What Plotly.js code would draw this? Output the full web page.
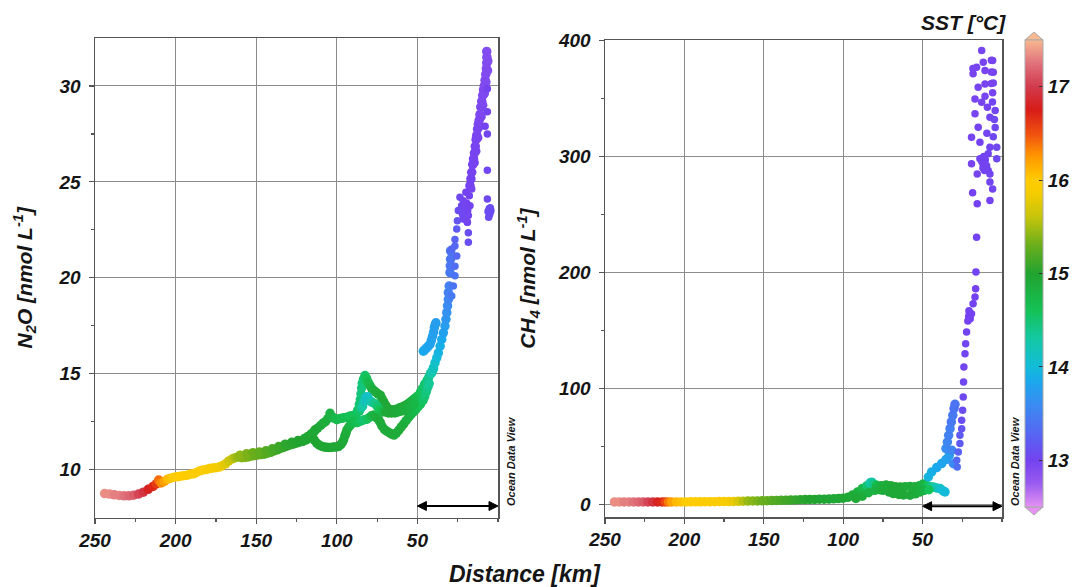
<!DOCTYPE html>
<html>
<head>
<meta charset="utf-8">
<script src="https://cdn.plot.ly/plotly-3.0.1.min.js"></script>
<style>html,body{margin:0;padding:0;background:#fff;}#chart{width:1088px;height:587px;}</style>
</head>
<body>
<div id="chart"></div>
<script>
// ---------- DATA (distance km, concentration nmol/L, SST degC) ----------
// N2O panel
const n2oOffshore = [
 [244,8.75,17.35],[241,8.72,17.35],[238,8.68,17.3],[235,8.65,17.3],[232,8.63,17.25],[229,8.63,17.2],
 [226,8.66,17.15],[223,8.72,17.05],[220,8.82,16.95],[217,8.97,16.8],[214,9.12,16.7],[212,9.25,16.6],
 [210.5,9.45,16.4],[209,9.3,16.3],[207,9.38,16.2],[205,9.5,16.1],[203,9.55,16.05],[201,9.6,16.0],
 [199,9.62,16.0],[197,9.65,16.0],[195,9.68,15.98],[193,9.7,15.97],[191,9.75,15.96],[189,9.78,15.95],
 [187,9.85,15.95],[185,9.93,15.94],[183,9.98,15.93],[181,10.0,15.92],[179,10.05,15.9],[177,10.08,15.88],
 [175,10.1,15.86],[173,10.13,15.84],[171,10.2,15.8],[169,10.3,15.75],[167,10.45,15.65],[165,10.55,15.6],
 [163,10.62,15.5],[161,10.65,15.45],[159,10.62,15.4],[157,10.63,15.38],[155,10.66,15.35],[153,10.7,15.33],
 [151,10.73,15.3],[149,10.76,15.28],[147,10.78,15.25],[145,10.8,15.22],[143,10.85,15.2],[141,10.9,15.18],
 [139,10.97,15.15],[137,11.03,15.12],[135,11.1,15.1],[133,11.15,15.08],[131,11.22,15.06],[129,11.28,15.05],
 [127,11.33,15.03],[125,11.38,15.02],[123,11.43,15.0],[121,11.47,15.0],[119,11.55,14.98],[117,11.65,14.96]
];
const n2oOffshore2 = [
 [160,10.75,15.42],[156,10.82,15.36],[152,10.88,15.3],[148,10.92,15.26],[144,10.98,15.2],[140,11.08,15.15],
 [136,11.2,15.1],[132,11.32,15.05],[128,11.42,15.02],[124,11.52,15.0],[120,11.62,14.97],[118,11.72,14.96],
 [116,11.85,14.95],[114,11.98,14.95]
];
const n2oUpperBranch = [
 [115.6,11.75,14.95],[113.5,12.07,14.95],[112,12.15,14.93],[110,12.3,14.92],[108.5,12.42,14.9],[107,12.5,14.88],
 [105.5,12.65,14.85],[104.2,12.93,14.8],[103,12.75,14.8],[101.5,12.67,14.75],[100,12.6,14.7],[98.5,12.65,14.7],
 [97,12.67,14.68],[95.5,12.7,14.65],[94,12.72,14.65],[92.5,12.76,14.62],[91,12.8,14.6],[89.5,12.82,14.6],
 [88,12.9,14.58],[87,13.1,14.55],[86,13.4,14.5],[85.4,13.65,14.48],[85,13.95,14.45],[84.6,14.25,14.45],
 [84.2,14.5,14.45],[83.5,14.7,14.5],[82.5,14.9,14.55],[81.5,14.75,14.6],[80.5,14.55,14.7],[79.5,14.4,14.75],
 [78.5,14.25,14.8],[77.5,14.15,14.85],[76,14.05,14.9],[74.5,13.95,14.9],[73,13.88,14.92],[72,13.7,14.92],
 [71,13.55,14.93],[70,13.4,14.93],[69,13.25,14.95],[67.5,13.15,14.95],[66,13.1,14.95],[64.5,13.1,14.95],
 [63,13.15,14.95],[61.5,13.19,14.93],[60,13.25,14.92],[58.5,13.3,14.9],[57,13.36,14.9],[55.5,13.45,14.88],
 [54,13.55,14.85],[52.5,13.65,14.8],[51,13.75,14.75],[49.5,13.85,14.7],[48,14.05,14.6],[46.9,14.22,14.55],
 [45.5,14.45,14.5],[44,14.65,14.45],[43,14.8,14.4],[42,15.0,14.35],[41,15.1,14.3],[40,15.25,14.25]
];
const n2oLowerLoop100 = [
 [114,11.55,14.98],[112.5,11.38,14.98],[111,11.28,14.98],[109.5,11.22,14.97],[108,11.18,14.97],[106.5,11.16,14.97],
 [105,11.15,14.96],[103.5,11.15,14.96],[102,11.17,14.95],[100.5,11.18,14.95],[99,11.2,14.95],[97.5,11.3,14.94],
 [96.5,11.42,14.93],[95.8,11.55,14.92],[95,11.75,14.9],[94.3,11.9,14.9],[93.7,12.07,14.88],[92.5,12.22,14.85],
 [91.5,12.33,14.8],[90.5,12.42,14.75],[89.5,12.5,14.7]
];
const n2oMiddleBand = [
 [89,12.45,14.7],[87.5,12.45,14.65],[86,12.5,14.6],[84.5,12.55,14.55],[83,12.6,14.5],[81.5,12.62,14.55],
 [80,12.7,14.6],[78.5,12.8,14.7],[77,12.85,14.8]
];
const n2oCyanInterior = [
 [86,13.05,14.55],[85,13.2,14.4],[84,13.3,14.3],[83,13.55,14.2],[82,13.75,14.15],[81,13.8,14.1],[80,13.65,14.15],
 [79,13.55,14.2],[78,13.5,14.25],[76.5,13.45,14.4],[75,13.3,14.5],[73.5,13.1,14.6],[72,13.0,14.7]
];
const n2oLowerLoop65 = [
 [75.5,12.7,14.85],[74,12.59,14.87],[73,12.45,14.88],[72,12.27,14.9],[70.5,12.1,14.9],[69,12.0,14.9],
 [67.5,11.92,14.9],[66,11.85,14.9],[64.5,11.8,14.9],[63,11.9,14.9],[61.5,12.05,14.9],[60,12.22,14.9],
 [58.5,12.38,14.88],[57,12.55,14.85],[55.5,12.72,14.82],[54,12.86,14.8],[52.5,13.0,14.75],[51,13.13,14.7],
 [49.5,13.28,14.65],[48,13.42,14.6],[46.5,13.6,14.55],[45.5,13.8,14.5],[44.5,14.05,14.45],[43.5,14.3,14.4],
 [42.7,14.48,14.35]
];
const n2oDescending = [
 [70,13.0,14.9],[68,12.95,14.92],[66,12.95,14.93],[64,12.95,14.93],[62,13.0,14.92],[60,13.05,14.9],
 [58,13.1,14.88],[56,13.2,14.85],[54,13.3,14.8],[52,13.4,14.75]
];
const n2oNearshoreRise = [
 [41.1,15.04,14.25],[40.1,15.3,14.15],[39.1,15.56,14.1],[38,15.82,14.0],[37,16.08,13.95],[35.9,16.43,13.9],
 [34.9,16.78,13.85],[33.9,17.13,13.8],[32.9,17.48,13.75],[32.3,17.83,13.7],[31.8,18.18,13.65],[31.3,18.53,13.6],
 [30.8,18.87,13.55],[30.8,19.22,13.5],[30.3,19.57,13.5],[29.8,20.27,13.45],[29.6,20.62,13.42],[29.4,20.97,13.4],
 [29.4,21.4,13.38]
];
const n2oLightBlueBranch = [
 [46.3,16.17,13.85],[45.3,16.25,13.85],[44.3,16.34,13.82],[43.2,16.43,13.82],[42.2,16.52,13.8],[41.4,16.72,13.8],
 [40.6,16.95,13.78],[40,17.15,13.78],[39.5,17.39,13.75],[39,17.55,13.75],[38.5,17.65,13.75]
];
const n2oBlueDots = [
 [28.7,19.05,13.45],[27.7,19.57,13.4],[26.7,20.1,13.4],[26.7,20.6,13.35],[25.6,21.14,13.3],[26.7,21.66,13.3],
 [28.7,21.5,13.3],[26.7,22.0,13.25],[25.6,22.54,13.2],[25.2,22.97,13.15],[24.6,23.5,13.1],
 [18.4,22.35,13.1],[18.4,21.85,13.1],[19.0,22.9,13.05]
];
const n2oPurpleCluster = [
 [23.6,24.2,13.05],[22.6,23.76,13.05],[21.6,24.02,13.02],[20.5,23.4,13.02],[19.5,23.9,13.0],[18.4,23.24,13.02],
 [17.4,23.76,13.0],[17.8,24.28,13.0],[21.6,23.06,13.04],[19.9,24.46,13.0],[16.3,24.63,12.98],[19.0,22.9,13.02],
 [24.2,23.5,13.08],[22.0,23.3,13.04],[20.8,23.7,13.02],[18.8,23.5,13.02]
];
const n2oTopColumn = [
 [17.4,24.8,13.0],[16.8,25.15,13.0],[16.3,25.5,12.99],[15.7,25.9,12.99],[15.2,26.2,12.98],[14.6,26.5,12.98],
 [14.1,26.85,12.97],[13.6,27.2,12.97],[13.2,27.42,12.96],[12.7,27.75,12.96],[12.2,28.0,12.95],[11.7,28.2,12.95],
 [11.2,28.5,12.95],[10.7,28.9,12.94],[10.1,29.2,12.94],[9.5,29.5,12.93],[9.0,29.8,12.93],[8.5,30.0,12.92],
 [8.0,30.3,12.92],[7.6,30.6,12.91],[7.2,30.9,12.91],[7.0,31.2,12.9],[6.9,31.5,12.9],[7.0,31.8,12.9],
 [14.8,26.0,12.99],[13.8,26.6,12.98],[12.6,27.3,12.97],[11.5,27.9,12.96],[10.5,28.4,12.95],[9.5,29.0,12.94],
 [8.5,29.6,12.93],[7.5,30.2,12.92],[6.5,30.8,12.91],[6.3,31.3,12.9]
];
const n2oOuterDots = [
 [6.6,29.85,13.0],[6.6,28.65,13.0],[8.0,27.9,13.0],[6.6,27.5,13.02],[6.6,25.6,13.04],[6.6,24.1,13.05],
 [4.9,23.4,13.08],[5.5,23.6,13.08],[4.4,23.5,13.08],[5.8,23.15,13.08],[5.2,23.3,13.08],[6.2,23.45,13.08],[4.8,23.65,13.08]
];

// CH4 panel
const ch4Offshore = [
 [244,2.0,17.35],[241,2.0,17.35],[238,2.0,17.3],[235,2.0,17.3],[232,2.0,17.25],[229,2.0,17.2],[226,2.0,17.15],
 [223,2.0,17.05],[220,2.0,16.95],[217,2.0,16.8],[214,2.0,16.7],[212,2.0,16.55],[210,2.0,16.35],[208,2.0,16.2],
 [205,2.0,16.1],[202,2.0,16.05],[199,2.0,16.0],[196,2.1,16.0],[193,2.1,16.0],[190,2.1,15.98],[187,2.2,15.97],
 [184,2.2,15.95],[181,2.2,15.95],[178,2.3,15.93],[175,2.3,15.9],[172,2.3,15.87],[169,2.4,15.8],[166,2.5,15.7],
 [163,2.6,15.55],[160,2.7,15.45],[157,2.8,15.4],[154,2.9,15.35],[151,3.0,15.3],[148,3.1,15.27],[145,3.2,15.23],
 [142,3.3,15.2],[139,3.4,15.17],[136,3.5,15.13],[133,3.6,15.1],[130,3.7,15.08],[127,3.9,15.05],[124,4.0,15.03],
 [121,4.1,15.0],[118,4.2,15.0],[115,4.3,14.98],[112,4.4,14.97],[109,4.5,14.96],[106,4.7,14.95],[103,4.9,14.95],[100,5.2,14.95]
];
const ch4Shelf = [
 [97,6.0,14.93],[94,8.0,14.9],[91,10.5,14.85],[88,13.5,14.75],[85,16.0,14.5],[83,18.5,14.3],[82,19.0,14.25],
 [81,17.5,14.4],[79,16.4,14.7],[76,16.0,14.85],[73,16.5,14.9],[70,16.0,14.92],[67,15.0,14.93],[64,14.9,14.93],
 [61,15.2,14.92],[58,15.3,14.9],[55,15.0,14.88],[52,16.0,14.85],[49.6,17.5,14.8],[47,16.0,14.6],[45,15.0,14.45],
 [43.3,14.9,14.3],[41,14.0,14.2],[38.9,13.5,14.1],[37,11.5,14.05],[35.9,10.6,14.0]
];
const ch4ShelfLower = [
 [92,5.0,14.95],[88,7.0,14.9],[84,10.0,14.8],[80,12.0,14.8],[77,12.5,14.85],[75,12.0,14.9],[71,10.5,14.92],
 [68.4,9.2,14.93],[65,8.5,14.93],[62,8.0,14.93],[57.9,7.8,14.92],[54.5,9.0,14.9],[51.6,10.6,14.85],[49,12.0,14.8],[46,12.5,14.6]
];
const ch4CyanStroke = [
 [46.4,23.5,13.95],[44.3,27.9,13.9],[41.1,31.6,13.85],[38.0,35.1,13.82],[35.3,38.5,13.8],[33.2,42.2,13.75]
];
const ch4BlueStrand = [
 [35.3,48,13.6],[34.4,53.7,13.55],[33.6,59.5,13.5],[32.7,65.2,13.5],[31.9,71,13.45],[31.0,76.7,13.45],
 [30.2,82.5,13.4],[29.6,86.2,13.4],[30.6,35,13.6],[31.7,46.6,13.55]
];
const ch4RisingDots = [
 [28.2,32.2,13.35],[28.5,37.9,13.3],[27.5,45.1,13.25],[26.5,52.3,13.2],[26.5,59.5,13.2],[25.4,65.2,13.15],
 [25.4,72.4,13.1],[24.8,81,13.08],[24.4,92.5,13.05],[24.2,105.4,13.04],[24.0,118.4,13.03],[23.3,129.9,13.02],
 [22.9,138.5,13.02],[22.3,148.5,13.01],[21.5,158,13.0],[21.0,162,13.0],[20.5,165,13.0],[20.0,160,13.0],
 [20.8,167,13.0],[19.2,164.4,13.0],[18.2,173,13.0],[17.0,178.7,13.0],[16.6,186,13.0],[16.4,200.3,13.0],
 [16.0,230.4,13.0],[15.6,259.2,13.0],[18.5,268.7,13.0],[7.6,262,13.0]
];
const ch4CoastalScatter = [
 [12.8,391.4,12.98],[11.8,381.3,12.98],[16,377,12.98],[18.2,371.3,12.98],[10.7,374.1,12.98],[5.9,382.8,12.98],
 [5.5,372.7,12.98],[5.5,363.5,12.98],[10.7,362.6,12.98],[15,359.7,12.98],[17,349.7,12.98],[12.8,346.8,12.98],
 [10.7,352,12.98],[9.2,342.5,13.0],[5.9,355,12.98],[4.3,339.7,13.02],[7.6,333.9,13.02],[17,336.8,12.98],
 [15,325.3,13.0],[13.9,312.3,13.0],[19.2,316.6,12.98],[4.3,325,13.05],[5.5,317,13.05],[3.3,308,13.05],
 [7.6,308,13.02],[8.7,302.3,13.02],[12.8,296.6,13.0],[10.7,290.8,13.0],[8.7,288,13.02],[19.2,293.7,12.98],
 [11.8,293.7,13.0],[15.6,285,12.98],[7.6,285,13.02],[7.6,278,13.02],[5.9,272,13.02],[3.3,298,13.05],
 [13.9,298,13.0],[12.5,295,13.0],[11.5,300,13.0],[10.5,297,13.01],[12,290,13.0],[11,288,13.01],
 [9.7,292,13.01],[6.7,383,12.98],[6.7,373,12.98],[6.7,363,12.98],[18.3,376,12.98],[6.0,347,13.02],
 [9.5,320,13.02],[4.8,332,13.05]
];

// SST colour scale stops [degC, colour]
const sstStops = [
 [12.5,'#e592f2'],[12.75,'#9a5cf0'],[13.0,'#7442f0'],[13.3,'#5468f2'],[13.6,'#3a8cf2'],[13.85,'#1aa8ec'],
 [14.0,'#12bcd8'],[14.3,'#14c8a4'],[14.6,'#14c256'],[15.0,'#22a330'],[15.3,'#6aae1c'],[15.6,'#c4c40c'],
 [15.85,'#f4cc02'],[16.0,'#ffcc00'],[16.25,'#ff9800'],[16.5,'#f05010'],[16.75,'#d81c18'],[17.0,'#d23a4c'],
 [17.25,'#e0727c'],[17.5,'#f8b890']
];
const sstTicks = [13,14,15,16,17];
const sstMin = 12.5, sstMax = 17.5;

// ---------- BUILD ----------
const n2oTrackSegs = [n2oOffshore,n2oOffshore2,n2oUpperBranch,n2oLowerLoop100,n2oMiddleBand,n2oCyanInterior,
  n2oLowerLoop65,n2oDescending,n2oNearshoreRise,n2oLightBlueBranch,n2oTopColumn];
const n2oDotSegs = [n2oBlueDots,n2oPurpleCluster,n2oOuterDots];
const ch4TrackSegs = [ch4Offshore,ch4Shelf,ch4ShelfLower,ch4CyanStroke,ch4BlueStrand];
const ch4DotSegs = [ch4RisingDots,ch4CoastalScatter];
function flat(segs){
  const x=[],y=[],c=[];
  segs.forEach(s=>s.forEach(p=>{x.push(p[0]);y.push(p[1]);c.push(p[2]);}));
  return {x,y,c};
}
const colorscale = sstStops.map(s=>[(s[0]-sstMin)/(sstMax-sstMin), s[1]]);

const W=1088,H=587;
const fx = p=>p/W, fy = p=>1-p/H;
const bi = (size)=>({family:'"Liberation Sans", Arial, sans-serif', size:size, weight:'bold', style:'italic', color:'#151515'});

function tr(segs, xa, ya, size){
  const d = flat(segs);
  return {type:'scatter', mode:'markers', x:d.x, y:d.y, xaxis:xa, yaxis:ya,
    marker:{size:size, color:d.c, coloraxis:'coloraxis'}, hoverinfo:'x+y'};
}
const traces = [
  tr(n2oTrackSegs,'x','y',9.5), tr(n2oDotSegs,'x','y',7.5),
  tr(ch4TrackSegs,'x2','y2',9.5), tr(ch4DotSegs,'x2','y2',7.5)
];

const axCommon = {showline:true, linecolor:'#555', linewidth:1.5, mirror:true, showgrid:true, gridcolor:'#8c8c8c',
  gridwidth:1, zeroline:false, ticks:'outside', ticklen:5, tickwidth:1.2, tickcolor:'#555', tickfont:bi(19), fixedrange:true};
const xTicks = [250,200,150,100,50];
const xMinor = {tickvals:[225,175,125,75,25,0], ticks:'outside', ticklen:3, tickcolor:'#555', showgrid:false};

// plot frames (px) used for arrows
const L = {x0:95, x1:498, y0:38, y1:517.5, r:[250,0], yr:[7.5,32.5]};
const R = {x0:605, x1:1002, y0:40, y1:517, r:[250,0], yr:[-11,400.5]};

const barTop=40, barBot=507, barL=1025, barR=1043;
const shapes = [
 {type:'path', xref:'paper', yref:'paper', layer:'above',
  path:`M ${fx(barL)},${fy(barTop)} L ${fx((barL+barR)/2)},${fy(barTop-8)} L ${fx(barR)},${fy(barTop)} Z`,
  fillcolor:sstStops[sstStops.length-1][1], line:{color:'#aaa', width:1}},
 {type:'path', xref:'paper', yref:'paper', layer:'above',
  path:`M ${fx(barL)},${fy(barBot)} L ${fx((barL+barR)/2)},${fy(barBot+8)} L ${fx(barR)},${fy(barBot)} Z`,
  fillcolor:sstStops[0][1], line:{color:'#aaa', width:1}}
];
sstTicks.forEach(t=>{
  const yp = barTop + (sstMax-t)/(sstMax-sstMin)*(barBot-barTop);
  shapes.push({type:'line', xref:'paper', yref:'paper', layer:'above', x0:fx(barL), x1:fx(barL+4), y0:fy(yp), y1:fy(yp),
    line:{color:'#333', width:1.2}});
});
// double-headed arrows marking the nearshore 50 km, drawn in each panel's data coordinates
function arrow(P, xref, yref, yVal){
  const kx = (P.r[0]-P.r[1])/(P.x1-P.x0), ky = (P.yr[1]-P.yr[0])/(P.y1-P.y0);
  const hl = 9*kx, hw = 4.5*ky;
  shapes.push({type:'line', xref:xref, yref:yref, x0:50-hl*0.5, x1:0+hl*0.5, y0:yVal, y1:yVal, line:{color:'#000', width:2}, layer:'above'});
  shapes.push({type:'path', xref:xref, yref:yref, layer:'above', fillcolor:'#000', line:{color:'#000', width:1},
    path:`M 50,${yVal} L ${50-hl},${yVal+hw} L ${50-hl},${yVal-hw} Z`});
  shapes.push({type:'path', xref:xref, yref:yref, layer:'above', fillcolor:'#000', line:{color:'#000', width:1},
    path:`M 0,${yVal} L ${hl},${yVal+hw} L ${hl},${yVal-hw} Z`});
}
arrow(L,'x','y',8.1);
arrow(R,'x2','y2',-1.7);

const layout = {
  width:W, height:H, margin:{l:0,r:0,t:0,b:0}, paper_bgcolor:'#fff', plot_bgcolor:'#fff', showlegend:false,
  font:{family:'"Liberation Sans", Arial, sans-serif', color:'#151515'},
  xaxis:Object.assign({}, axCommon, {domain:[fx(L.x0),fx(L.x1)], range:L.r, anchor:'y', tickmode:'array',
    tickvals:xTicks, minor:xMinor}),
  yaxis:Object.assign({}, axCommon, {domain:[fy(L.y1),fy(L.y0)], range:L.yr, anchor:'x', tickmode:'array',
    tickvals:[10,15,20,25,30], ticklabelstandoff:4,
    minor:{tickvals:[12.5,17.5,22.5,27.5], ticks:'outside', ticklen:3, tickcolor:'#555', showgrid:false},
    title:{text:'N<sub>2</sub>O [nmol L<sup>-1</sup>]', font:bi(21), standoff:20}}),
  xaxis2:Object.assign({}, axCommon, {domain:[fx(R.x0),fx(R.x1)], range:R.r, anchor:'y2', tickmode:'array',
    tickvals:xTicks, minor:xMinor}),
  yaxis2:Object.assign({}, axCommon, {domain:[fy(R.y1),fy(R.y0)], range:R.yr, anchor:'x2', tickmode:'array',
    tickvals:[0,100,200,300,400], ticklabelstandoff:4,
    minor:{tickvals:[50,150,250,350], ticks:'outside', ticklen:3, tickcolor:'#555', showgrid:false},
    title:{text:'CH<sub>4</sub> [nmol L<sup>-1</sup>]', font:bi(21), standoff:16}}),
  coloraxis:{cmin:sstMin, cmax:sstMax, colorscale:colorscale,
    colorbar:{x:fx(barL), xanchor:'left', y:fy((barTop+barBot)/2), yanchor:'middle', len:(barBot-barTop)/H, lenmode:'fraction',
      thickness:barR-barL, thicknessmode:'pixels', xpad:0, ypad:0, outlinewidth:1, outlinecolor:'#aaa', borderwidth:0,
      tickmode:'array', tickvals:sstTicks, ticks:'inside', ticklen:4, tickwidth:1.2, tickcolor:'#333', tickfont:bi(19)}},
  shapes:shapes,
  annotations:[
    {text:'Distance [km]', xref:'paper', yref:'paper', x:fx(525), y:fy(574), showarrow:false, font:bi(23), xanchor:'center', yanchor:'middle'},
    {text:'SST [°C]', xref:'paper', yref:'paper', x:fx(963), y:fy(22), showarrow:false, font:bi(21), xanchor:'center', yanchor:'middle'},
    {text:'Ocean Data View', xref:'paper', yref:'paper', x:fx(511), y:fy(461), textangle:-90, showarrow:false, font:bi(11), xanchor:'center', yanchor:'middle'},
    {text:'Ocean Data View', xref:'paper', yref:'paper', x:fx(1015), y:fy(461), textangle:-90, showarrow:false, font:bi(11), xanchor:'center', yanchor:'middle'}
  ]
};

Plotly.newPlot('chart', traces, layout, {displayModeBar:false, staticPlot:true});
</script>
</body>
</html>
